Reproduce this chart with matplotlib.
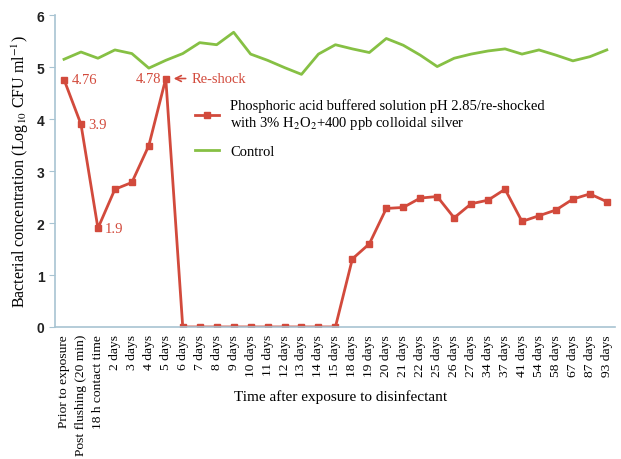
import matplotlib
matplotlib.use("Agg")
import matplotlib.pyplot as plt

plt.rcParams['font.family'] = ['Liberation Serif', 'DejaVu Serif']
plt.rcParams['mathtext.fontset'] = 'stix'

# time points (x categories)
labels = ["Prior to exposure", "Post flushing (20 min)", "18 h contact time",
          "2 days", "3 days", "4 days", "5 days", "6 days", "7 days", "8 days",
          "9 days", "10 days", "11 days", "12 days", "13 days", "14 days",
          "15 days", "18 days", "19 days", "20 days", "21 days", "22 days",
          "25 days", "26 days", "27 days", "34 days", "37 days", "41 days",
          "54 days", "58 days", "67 days", "87 days", "93 days"]

treated = [4.76, 3.9, 1.9, 2.65, 2.78, 3.49, 4.78, 0, 0, 0,
           0, 0, 0, 0, 0, 0, 0, 1.31, 1.6, 2.28,
           2.3, 2.48, 2.51, 2.1, 2.37, 2.44, 2.65, 2.03,
           2.14, 2.25, 2.46, 2.56, 2.41]

control = [5.15, 5.29, 5.17, 5.33, 5.26, 4.98, 5.13, 5.26, 5.47, 5.43,
           5.67, 5.25, 5.13, 4.99, 4.86, 5.25, 5.43, 5.35, 5.28, 5.55,
           5.42, 5.23, 5.01, 5.17, 5.25, 5.31, 5.35, 5.25,
           5.33, 5.23, 5.12, 5.2, 5.33]

red = '#d24a3c'
green = '#86c044'
spine = '#a8c4d2'

fig = plt.figure(figsize=(6.21, 4.60), dpi=100)
ax = fig.add_axes([0.0886, 0.287, 0.9014, 0.678])

x = list(range(len(labels)))
ax.plot(x, treated, color=red, lw=2, marker='s', ms=5,
        label="Phosphoric acid buffered solution pH 2.85/re-shocked\nwith 3% H$_2$O$_2$+400 ppb colloidal silver")
ax.plot(x, control, color=green, lw=2, label="Control")

# point annotations
ax.text(0.45, 4.76, "4.76", color=red, fontsize=10.5, va='center')
ax.text(1.4, 3.9, "3.9", color=red, fontsize=10.5, va='center')
ax.text(2.4, 1.9, "1.9", color=red, fontsize=10.5, va='center')
ax.text(5.75, 4.78, "4.78", color=red, fontsize=10.5, va='center', ha='right')
ax.annotate("Re-shock", xy=(6.3, 4.78), xytext=(7.5, 4.78), color=red,
            fontsize=10.5, va='center',
            arrowprops=dict(arrowstyle='->', color=red, lw=1.2))

ax.set_xlim(-0.53, 32.47)
ax.set_ylim(0, 6)
ax.set_xticks(x)
ax.set_xticklabels(labels, rotation=90, fontsize=9.7)
ax.tick_params(axis='x', length=0, pad=5)
ax.tick_params(axis='y', length=4, color=spine, labelsize=10)
for lab in ax.get_yticklabels():
    lab.set_family('Liberation Sans')
    lab.set_fontweight('bold')
    lab.set_color('#222222')

for s in ['top', 'right']:
    ax.spines[s].set_visible(False)
for s in ['left', 'bottom']:
    ax.spines[s].set_color(spine)
    ax.spines[s].set_linewidth(1.2)

ax.set_xlabel("Time after exposure to disinfectant", fontsize=11)
ax.xaxis.set_label_coords(0.51, -0.222)
ax.xaxis.label.set_va('center')
ax.set_ylabel("Bacterial concentration (Log$_{10}$ CFU ml$^{-1}$)", fontsize=11.5)

ax.legend(loc='upper left', bbox_to_anchor=(0.24, 0.752), frameon=False,
          fontsize=10.5, handlelength=1.6, labelspacing=0.9, borderaxespad=0)

fig.savefig("out.png", dpi=100)
